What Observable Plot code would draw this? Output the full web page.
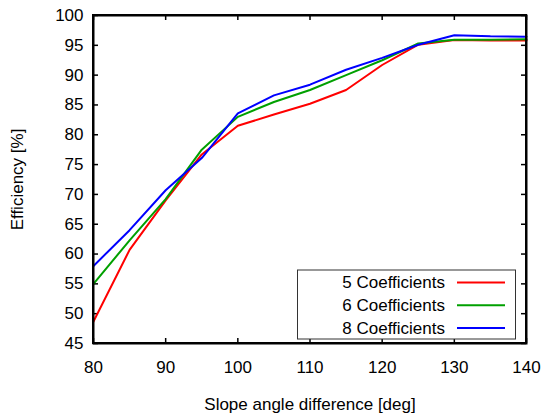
<!DOCTYPE html>
<html>
<head>
<meta charset="utf-8">
<script src="https://cdn.jsdelivr.net/npm/d3@7"></script>
<script src="https://cdn.jsdelivr.net/npm/@observablehq/plot@0.6"></script>
<style>
  html, body { margin: 0; padding: 0; background: #fff; }
  svg { font-family: "Liberation Sans", Arial, sans-serif; }
</style>
</head>
<body>
<div id="chart"></div>
<script>
const angles = [80, 85, 90, 95, 100, 105, 110, 115, 120, 125, 130, 135, 140];
const coef5 = [48.7, 60.7, 69.0, 76.7, 81.5, 83.4, 85.2, 87.5, 91.7, 95.1, 95.9, 95.8, 95.8];
const coef6 = [55.0, 62.3, 69.2, 77.5, 83.0, 85.5, 87.5, 90.0, 92.5, 95.3, 95.95, 95.95, 96.0];
const coef8 = [58.0, 64.0, 70.7, 76.1, 83.6, 86.6, 88.4, 90.9, 92.9, 95.1, 96.7, 96.5, 96.45];
const seriesNames = ["5 Coefficients", "6 Coefficients", "8 Coefficients"];
const seriesColors = ["#ff0000", "#00a000", "#0000ff"];
const xTicks = [80, 90, 100, 110, 120, 130, 140];
const yTicks = [45, 50, 55, 60, 65, 70, 75, 80, 85, 90, 95, 100];

const seriesValues = [coef5, coef6, coef8];
const data = [];
seriesValues.forEach((vals, s) => vals.forEach((v, i) => data.push({series: seriesNames[s], x: angles[i], y: v})));

const W = 543, H = 414;
const mL = 93, mR = 17, mT = 15, mB = 71;
const innerW = W - mL - mR, innerH = H - mT - mB;
const tl = 5;
const FS = 17;

const chart = Plot.plot({
  width: W, height: H,
  marginLeft: mL, marginRight: mR, marginTop: mT, marginBottom: mB,
  style: {fontFamily: '"Liberation Sans", Arial, sans-serif', fontSize: FS + "px", color: "#000", background: "#fff"},
  x: {domain: [80, 140]},
  y: {domain: [45, 100]},
  color: {domain: seriesNames, range: seriesColors},
  marks: [
    Plot.axisX(xTicks, {tickSize: 0, tickPadding: 17, label: "Slope angle difference [deg]", labelAnchor: "center", labelArrow: "none", labelOffset: 66, fontSize: FS}),
    Plot.axisY(yTicks, {tickSize: 0, tickPadding: 10, label: "Efficiency [%]", labelAnchor: "center", labelArrow: "none", labelOffset: 83, fontSize: FS}),
    Plot.tickX(xTicks, {x: d => d, insetTop: innerH - tl, stroke: "#000", strokeWidth: 1.5}),
    Plot.tickX(xTicks, {x: d => d, insetBottom: innerH - tl, stroke: "#000", strokeWidth: 1.5}),
    Plot.tickY(yTicks, {y: d => d, insetRight: innerW - tl, stroke: "#000", strokeWidth: 1.5}),
    Plot.tickY(yTicks, {y: d => d, insetLeft: innerW - tl, stroke: "#000", strokeWidth: 1.5}),
    Plot.line(data, {x: "x", y: "y", z: "series", stroke: "series", strokeWidth: 2, strokeLinejoin: "miter"}),
    Plot.frame({stroke: "#000", strokeWidth: 2})
  ]
});

// legend box (gnuplot-style key)
const svg = d3.select(chart);
const g = svg.append("g").attr("class", "legend");
const bx = 297.5, by = 270, bw = 218, bh = 69;
g.append("rect").attr("x", bx).attr("y", by).attr("width", bw).attr("height", bh)
  .attr("fill", "#fff").attr("stroke", "#333").attr("stroke-width", 1);
seriesNames.forEach((name, i) => {
  const cy = 282.5 + i * 22.7;
  g.append("text").attr("x", 445).attr("y", cy).attr("dy", "0.35em")
    .attr("text-anchor", "end").attr("font-size", FS).attr("fill", "#000").text(name);
  g.append("line").attr("x1", 457).attr("x2", 505).attr("y1", cy).attr("y2", cy)
    .attr("stroke", seriesColors[i]).attr("stroke-width", 2);
});
// redraw frame on top of legend edge
svg.append("rect").attr("x", mL).attr("y", mT).attr("width", innerW).attr("height", innerH)
  .attr("fill", "none").attr("stroke", "#000").attr("stroke-width", 2);

document.getElementById("chart").appendChild(chart);
</script>
</body>
</html>
